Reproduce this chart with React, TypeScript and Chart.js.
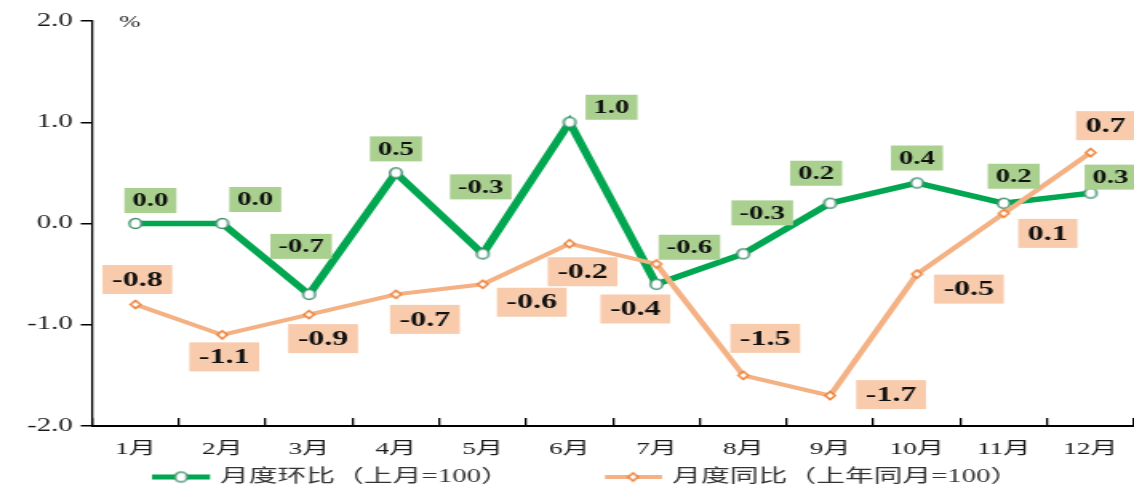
import React, { useEffect, useRef } from 'react';
import { Chart, registerables } from 'chart.js';

Chart.register(...registerables);

// ---------- data ----------
const months = ['1月', '2月', '3月', '4月', '5月', '6月', '7月', '8月', '9月', '10月', '11月', '12月'];
const momValues = [0.0, 0.0, -0.7, 0.5, -0.3, 1.0, -0.6, -0.3, 0.2, 0.4, 0.2, 0.3];
const yoyValues = [-0.8, -1.1, -0.9, -0.7, -0.6, -0.2, -0.4, -1.5, -1.7, -0.5, 0.1, 0.7];
const momName = '月度环比（上月=100）';
const yoyName = '月度同比（上年同月=100）';
const unitLabel = '%';
const yMin = -2;
const yMax = 2;
const yStep = 1;

// label box offsets from their point (screen px)
const momLabelOffsets = [[15, -23], [33, -24], [-8, -48], [0, -24], [-2, -67], [42, -15], [33, -37], [19, -41], [-14, -30], [0, -25], [10, -27], [20, -16]];
const yoyLabelOffsets = [[2, -25], [2, 22], [14, 24], [29, 25], [49, 18], [13, 28], [-21, 45], [22, -37], [61, -1], [52, 15], [44, 20], [15, -27]];

// ---------- look ----------
const W_REAL = 1134;
const H = 491;
const W_LOG = 709;
const S = W_REAL / W_LOG; // horizontal stretch of the picture

const GREEN = '#00a650';
const GREEN_MARK = '#3f8f6e';
const GREEN_BOX = '#a9d08e';
const ORANGE = '#f4b183';
const ORANGE_MARK = '#ed7d31';
const ORANGE_BOX = '#f8cbad';
const SERIF = '"Liberation Serif", "Noto Sans CJK SC", serif';

function makeEllipse(wr: number, hr: number, stroke: string, lw: number) {
  const c = document.createElement('canvas');
  const w = wr / S;
  const h = hr;
  c.width = Math.ceil(w + lw * 2 + 2);
  c.height = Math.ceil(h + lw * 2 + 2);
  const g = c.getContext('2d')!;
  g.beginPath();
  g.ellipse(c.width / 2, c.height / 2, w / 2, h / 2, 0, 0, Math.PI * 2);
  g.fillStyle = '#ffffff';
  g.fill();
  g.lineWidth = lw;
  g.strokeStyle = stroke;
  g.stroke();
  return c;
}

function makeDiamond(wr: number, hr: number, stroke: string, lw: number) {
  const c = document.createElement('canvas');
  const w = wr / S;
  const h = hr;
  c.width = Math.ceil(w + lw * 2 + 2);
  c.height = Math.ceil(h + lw * 2 + 2);
  const g = c.getContext('2d')!;
  const cx = c.width / 2;
  const cy = c.height / 2;
  g.beginPath();
  g.moveTo(cx, cy - h / 2);
  g.lineTo(cx + w / 2, cy);
  g.lineTo(cx, cy + h / 2);
  g.lineTo(cx - w / 2, cy);
  g.closePath();
  g.fillStyle = '#ffffff';
  g.fill();
  g.lineWidth = lw;
  g.strokeStyle = stroke;
  g.stroke();
  return c;
}

export default function App() {
  const ref = useRef<HTMLCanvasElement | null>(null);

  useEffect(() => {
    document.body.style.margin = '0';
    const canvas = ref.current;
    if (!canvas) return;

    const greenMarker = makeEllipse(12, 10, GREEN_MARK, 1.4);
    const orangeMarker = makeDiamond(10, 8, ORANGE_MARK, 1.4);

    const labelSets = [
      { values: momValues, offsets: momLabelOffsets, box: GREEN_BOX, size: 18, padX: 5, boxH: 25, ds: 0 },
      { values: yoyValues, offsets: yoyLabelOffsets, box: ORANGE_BOX, size: 20, padX: 6, boxH: 29, ds: 1 },
    ];

    const labelPlugin = {
      id: 'boxLabels',
      afterDatasetsDraw(chart: any) {
        const ctx = chart.ctx;
        ctx.save();
        labelSets.forEach((set) => {
          const meta = chart.getDatasetMeta(set.ds);
          meta.data.forEach((pt: any, i: number) => {
            const [dx, dy] = set.offsets[i];
            const cx = pt.x + dx / S;
            const cy = pt.y + dy;
            const text = set.values[i].toFixed(1);
            ctx.font = `bold ${set.size}px ${SERIF}`;
            const tw = ctx.measureText(text).width;
            const w = tw + set.padX * 2;
            ctx.fillStyle = set.box;
            ctx.fillRect(cx - w / 2, cy - set.boxH / 2, w, set.boxH);
            ctx.fillStyle = '#111111';
            ctx.textAlign = 'center';
            ctx.textBaseline = 'middle';
            ctx.fillText(text, cx, cy + 1);
          });
        });
        ctx.restore();
      },
      afterDraw(chart: any) {
        const ctx = chart.ctx;
        ctx.save();
        // unit label
        ctx.font = `16px ${SERIF}`;
        ctx.fillStyle = '#222222';
        ctx.textAlign = 'center';
        ctx.textBaseline = 'middle';
        ctx.fillText(unitLabel, 130 / S, 23);
        // legend
        const ly = 477;
        const items = [
          { x0: 152, x1: 210, mx: 181, tx: 220, color: GREEN, lw: 5, marker: greenMarker, name: momName },
          { x0: 605, x1: 662, mx: 633, tx: 672, color: ORANGE, lw: 4, marker: orangeMarker, name: yoyName },
        ];
        items.forEach((it) => {
          ctx.beginPath();
          ctx.strokeStyle = it.color;
          ctx.lineWidth = it.lw;
          ctx.moveTo(it.x0 / S, ly);
          ctx.lineTo(it.x1 / S, ly);
          ctx.stroke();
          ctx.drawImage(it.marker, it.mx / S - it.marker.width / 2, ly - it.marker.height / 2);
          ctx.font = `18px ${SERIF}`;
          ctx.fillStyle = '#333333';
          ctx.textAlign = 'left';
          ctx.textBaseline = 'middle';
          ctx.fillText(it.name, it.tx / S, ly);
        });
        ctx.restore();
      },
    };

    const chart = new Chart(canvas, {
      type: 'line',
      data: {
        labels: months,
        datasets: [
          {
            label: momName,
            data: momValues,
            borderColor: GREEN,
            backgroundColor: GREEN,
            borderWidth: 5.5,
            tension: 0,
            pointStyle: greenMarker as any,
            pointRadius: 5,
            order: 2,
          },
          {
            label: yoyName,
            data: yoyValues,
            borderColor: ORANGE,
            backgroundColor: ORANGE,
            borderWidth: 4,
            tension: 0,
            pointStyle: orangeMarker as any,
            pointRadius: 5,
            order: 1,
          },
        ],
      },
      options: {
        animation: false,
        responsive: false,
        devicePixelRatio: 1,
        layout: { autoPadding: false, padding: { top: 21, left: 0, right: 0, bottom: 0 } },
        plugins: {
          legend: { display: false },
          tooltip: { enabled: false },
        },
        scales: {
          x: {
            type: 'category',
            offset: true,
            grid: {
              display: true,
              drawOnChartArea: false,
              drawTicks: true,
              tickLength: -8,
              color: '#000000',
              lineWidth: 1.3,
              offset: true,
            },
            border: { display: true, color: '#000000', width: 2 },
            ticks: {
              font: { family: SERIF, size: 17 },
              color: '#1a1a1a',
              padding: 21,
              maxRotation: 0,
              autoSkip: false,
            },
            afterFit: (s: any) => {
              s.height = 65;
              s.paddingLeft = 0;
              s.paddingRight = 0;
            },
          },
          y: {
            min: yMin,
            max: yMax,
            ticks: {
              stepSize: yStep,
              callback: (v: any) => Number(v).toFixed(1),
              font: { family: SERIF, size: 18 },
              color: '#1a1a1a',
              padding: 5,
            },
            grid: {
              drawOnChartArea: false,
              tickLength: 7,
              color: '#000000',
              lineWidth: 1.5,
            },
            border: { display: true, color: '#000000', width: 1.3 },
            afterFit: (s: any) => {
              s.width = 57.5;
              s.paddingTop = 0;
              s.paddingBottom = 0;
            },
          },
        },
      },
      plugins: [labelPlugin],
    });

    return () => {
      chart.destroy();
    };
  }, []);

  return (
    <div style={{ width: W_REAL, height: H, overflow: 'hidden', background: '#ffffff' }}>
      <canvas
        ref={ref}
        width={W_LOG}
        height={H}
        style={{ width: `${W_REAL}px`, height: `${H}px`, display: 'block' }}
      />
    </div>
  );
}
